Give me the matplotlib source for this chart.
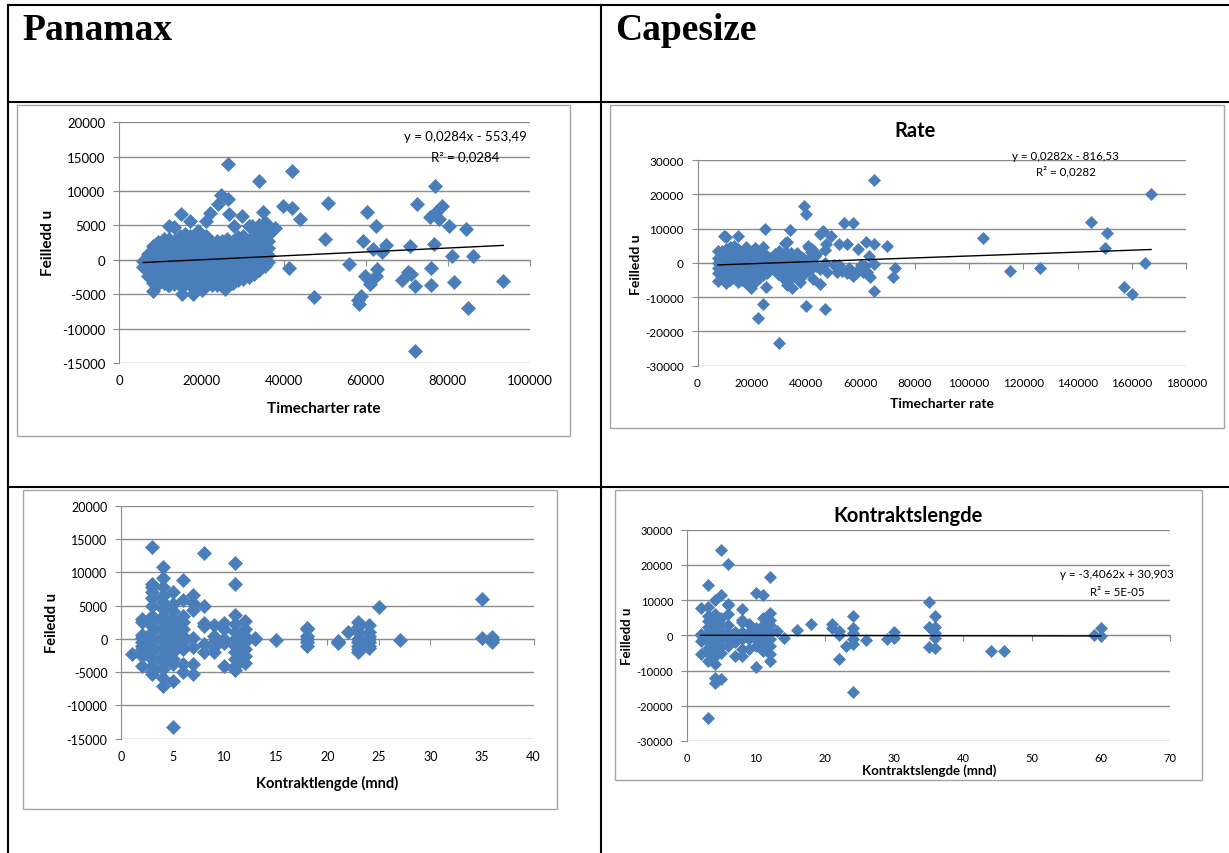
import matplotlib
matplotlib.use('Agg')
import matplotlib.pyplot as plt
from matplotlib.lines import Line2D
from matplotlib.patches import Rectangle
import numpy as np

plt.rcParams['axes.unicode_minus'] = False
plt.rcParams['font.family'] = ['Lato', 'DejaVu Sans']

W, H = 1229, 854
BLUE = '#4A7EBB'
GRID = '#8C8C8C'

# ---------------- data ----------------
# Panamax, residual vs timecharter rate: dense block as (x, [y...]) columns
pmx_rate_cols = [
    (5800, [-1000, -200]),
    (7000, [-2400, -1500, -600, 300, 900]),
    (8200, [-3300, -2400, -1500, -600, 300, 1200, 2000]),
    (9500, [-3500, -2600, -1700, -800, 100, 1000, 1900, 2600]),
    (10800, [-3300, -2400, -1500, -600, 300, 1200, 2100, 3000]),
    (12100, [-3700, -2800, -1900, -1000, -100, 800, 1700, 2600, 3100, 4900]),
    (13400, [-3500, -2600, -1700, -800, 100, 1000, 1900, 2800, 4800]),
    (14700, [-3600, -2700, -1800, -900, 0, 900, 1800, 2700, 3400]),
    (16000, [-3500, -2600, -1700, -800, 100, 1000, 1900, 2800, 3700]),
    (17300, [-3700, -2800, -1900, -1000, -100, 800, 1700, 2600, 3500]),
    (18600, [-3600, -2700, -1800, -900, 0, 900, 1800, 2700, 3600]),
    (19900, [-3500, -2600, -1700, -800, 100, 1000, 1900, 2800, 3700]),
    (21200, [-3600, -2700, -1800, -900, 0, 900, 1800, 2700, 3500, 5600]),
    (22500, [-3700, -2800, -1900, -1000, -100, 800, 1700, 2600]),
    (23800, [-3600, -2700, -1800, -900, 0, 900, 1800, 2700]),
    (25100, [-3500, -2600, -1700, -800, 100, 1000, 1900, 2700]),
    (26300, [-3200, -2300, -1400, -500, 400, 1300, 2200, 3000]),
    (27600, [-3300, -2400, -1500, -600, 300, 1200, 2100, 2800]),
    (28900, [-3000, -2100, -1200, -300, 600, 1500, 2400, 3300]),
    (30200, [-2800, -1900, -1000, -100, 800, 1700, 2600, 3400]),
    (31500, [-2500, -1600, -700, 200, 1100, 2000, 2900, 4900]),
    (32800, [-2100, -1200, -300, 600, 1500, 2400, 3300, 4300]),
    (34100, [-1500, -600, 300, 1200, 2100, 3000, 3900, 5100]),
    (35400, [-900, 0, 900, 1800, 2700, 3600, 4500, 5500]),
    (36300, [-300, 700, 1700, 2700, 3600]),
]
pmx_rate_out = [
    (26500, 13900), (42000, 12900), (34000, 11400), (76900, 10800), (24700, 9400),
    (26500, 8900), (72400, 8100), (50800, 8200), (78600, 7900), (39800, 7800),
    (42000, 7600), (23900, 8100), (77000, 7000), (75600, 6300), (77900, 5900),
    (60400, 6900), (44100, 5900), (34900, 6900), (26600, 6600), (15100, 6600),
    (29900, 6400), (22000, 6800), (38000, 4600), (62400, 4900), (80200, 4900),
    (84300, 4500), (50000, 3100), (59400, 2800), (70800, 2000), (76500, 2300),
    (61800, 1600), (65000, 2200), (63900, 1100), (80900, 500), (86000, 600),
    (41400, -1200), (55800, -600), (75900, -1200), (62700, -1400), (70400, -1700),
    (71000, -2100), (59800, -2300), (62400, -2400), (68800, -2900), (61000, -3500),
    (81400, -3200), (93500, -3100), (71900, -3800), (76000, -3700), (47500, -5400),
    (58900, -5300), (58100, -5800), (58300, -6400), (84800, -7000), (71900, -13300),
    (17200, 5700), (28000, 4900), (19200, 4200), (32200, 4900), (8100, -4600),
    (15200, -4900), (18000, -5000), (20000, -4400), (25700, -4200), (11900, -3700),
    (37000, 4500),
]
pmx_rate_fit = (0.0284, -553.49)

# Capesize, residual vs timecharter rate
cape_rate_cols = [
    (7500, [-5400, -3000, -1500, 0, 1500, 3500]),
    (9000, [-4500, -2500, -1000, 500, 2000, 3500]),
    (10500, [-6000, -3500, -2000, -500, 1000, 2500, 4000, 7400]),
    (12000, [-5000, -3000, -1500, 0, 1500, 3000, 4500]),
    (13500, [-4000, -2500, -1000, 500, 2000, 3500, 5000]),
    (15000, [-5500, -3500, -2000, -500, 1000, 2500, 4000]),
    (16500, [-5000, -3000, -1500, 0, 1500, 3000]),
    (18000, [-6000, -4000, -2500, -1000, 500, 2000, 3500, 4500]),
    (19500, [-4500, -3000, -1500, 0, 1500, 3000]),
    (21000, [-5500, -3500, -2000, -500, 1000, 2500, 4300]),
    (22500, [-4500, -3000, -1500, 0, 1500, 3000]),
    (24000, [-3500, -2000, -500, 1000, 2500, 4500]),
    (25500, [-3000, -1000, 500, 2000]),
    (27000, [-1500, 0, 1500]),
    (28500, [-500, 1000, 2500]),
    (30000, [-1500, 0, 2000, 3500]),
    (31500, [-4500, -2500, -500, 1000, 2500]),
    (33000, [-3500, -1500, 0, 1500, 3000, 6000]),
    (34500, [-4500, -2500, -500, 1500, 3000]),
    (36000, [-3500, -1500, 0, 2000]),
    (37500, [-2500, -500, 1500]),
    (39000, [-3500, -1500, 0, 1500]),
    (40500, [-2500, -500, 1000, 5000]),
    (42000, [-1500, 500, 4000]),
    (43500, [-1000, 2500]),
]
cape_rate_out = [
    (65100, 24100), (167000, 20000), (39100, 16600), (40000, 14200), (53900, 11500),
    (57100, 11500), (144900, 12000), (150900, 8700), (105000, 7300), (149900, 4300),
    (164900, -100), (114900, -2500), (126100, -1500), (157000, -6900), (160100, -9100),
    (65100, -8100), (72700, -1500), (72100, -4100), (69800, 5000), (65100, 5400),
    (61900, 6200), (63100, 1900), (65100, -400), (63400, -4100), (59100, 3900),
    (60100, -600), (57100, -3900), (55100, 5500), (52100, 5600), (49200, 7900),
    (45200, 8400), (46200, 9300), (47300, 5600), (46800, 3700), (45000, -6100),
    (47100, -13500), (40000, -12500), (30000, -23500), (22300, -16000), (24100, -12100),
    (25400, -7000), (19600, -7400), (25000, 9800), (34000, 9500), (32200, 5700),
    (9900, 7800), (14800, 7900), (51200, -2800), (53300, -2500), (54900, -3000),
    (58300, -3000), (60800, -2800), (47000, 100), (52000, -500), (42400, -4700),
    (37700, -5500), (34700, -7200), (32800, -6500), (40900, 4300), (41900, 3300),
    (43100, 2000), (36500, 3000), (42400, -900), (45000, -1700), (47600, -2800),
    (29100, -2300), (29800, -3300), (45700, 8900), (50200, -600), (55700, -1400),
    (58600, -2300), (61600, -900), (62500, -2800),
]
cape_rate_fit = (0.0282, -816.53)

# Panamax, residual vs contract length (months)
pmx_len_cols = [
    (1, [-2200]),
    (2, [-4000, -2600, -2000, -1500, -1000, -500, 200, 600, 2500, 3000]),
    (3, [-5200, -4800, -4000, -3000, -2000, -1000, 0, 1000, 2000, 3000, 3500,
         5000, 6200, 7000, 7800, 8200, 13900]),
    (4, [-7000, -5800, -4500, -3500, -2500, -1500, -500, 500, 1500, 2500, 3500,
         4500, 5500, 6500, 7800, 9200, 10800]),
    (5, [-13300, -6300, -3800, -3000, -2000, -1000, 0, 1000, 2000, 3000, 4200,
         5300, 7000]),
    (6, [-4900, -3700, -1500, -500, 500, 1500, 2500, 3400, 5900, 8900]),
    (7, [-5300, -3700, -1200, 200, 4400, 5400, 6600]),
    (8, [-1900, -700, 1900, 2400, 4900, 12900]),
    (9, [-2000, -1200, -500, 400, 2100]),
    (10, [-4000, -600, 0, 1500, 2400]),
    (11, [-4600, -4000, -3000, -2000, -1000, 0, 1000, 2200, 3600, 8200, 11400]),
    (12, [-3600, -2500, -1500, -500, 500, 1500, 2700]),
    (13, [0, 200]),
    (15, [-200]),
    (18, [-1100, -500, 0, 500, 1500, 1700]),
    (21, [-600, -500, -300]),
    (22, [1000]),
    (23, [-1900, -1500, -1000, -500, 0, 1000, 1800, 2500]),
    (24, [-1400, -1000, -500, 0, 500, 1000, 2100]),
    (25, [4800]),
    (27, [-200]),
    (35, [100, 6000]),
    (36, [-400, -100, 0, 300]),
]

# Capesize, residual vs contract length (months)
cape_len_cols = [
    (2, [-5400, -1500, 0, 500, 7800]),
    (3, [-23500, -7300, -5000, -3500, -2000, -500, 1000, 2500, 4000, 5500, 8000, 14300]),
    (4, [-13500, -12100, -8000, -6000, -4000, -2000, 0, 2000, 4000, 6000, 9900]),
    (5, [-12400, -5000, -3000, -1000, 1000, 3000, 5000, 11500, 24100]),
    (6, [-3000, -1000, 1000, 3000, 6100, 8500, 9000, 20200]),
    (7, [-6000, -2000, 0, 1000]),
    (8, [-6000, -4000, -1000, 1000, 3800, 4300, 7400]),
    (9, [-4000, -1000, 0, 1000, 3100]),
    (10, [-9000, -3000, -1000, 1000, 2000, 12000]),
    (11, [-4500, -3000, -1500, 0, 1500, 3000, 5000, 11500]),
    (12, [-7400, -5200, -3000, -1000, 1000, 3000, 4500, 6400, 16600]),
    (13, [1200]),
    (14, [-700]),
    (16, [1400]),
    (18, [3200]),
    (21, [2100, 3100]),
    (22, [-6700, 100, 1200]),
    (23, [-3100]),
    (24, [-16000, -2400, -1000, 700, 2200, 5500]),
    (26, [-1400]),
    (29, [-1100]),
    (30, [-700, 900]),
    (35, [-3200, 2400, 9400]),
    (36, [-3700, -700, 800, 2400, 5500]),
    (44, [-4500]),
    (46, [-4500]),
    (59, [200]),
    (60, [-300, 2000]),
]
cape_len_fit = (-3.4062, 30.903)


def flat(cols, pairs=()):
    xs, ys = [], []
    for x, yl in cols:
        xs += [x] * len(yl)
        ys += yl
    for x, y in pairs:
        xs.append(x)
        ys.append(y)
    return np.array(xs, float), np.array(ys, float)


def fx(px):
    return px / W


def fy(py):
    return 1 - py / H


fig = plt.figure(figsize=(W / 100, H / 100), dpi=100)
fig.patch.set_facecolor('white')

# table grid
for x0, y0, x1, y1 in [(8, 6, 1229, 6), (8, 103, 1229, 103), (8, 488, 1229, 488),
                       (8, 6, 8, 854), (601, 6, 601, 854)]:
    fig.add_artist(Line2D([fx(x0), fx(x1)], [fy(y0), fy(y1)],
                          transform=fig.transFigure, color='black', lw=1.5))

fig.text(fx(22), fy(31), 'Panamax', family='Liberation Serif', weight='bold',
         size=27, va='center', ha='left')
fig.text(fx(615), fy(31), 'Capesize', family='Liberation Serif', weight='bold',
         size=27, va='center', ha='left')


def panel(frame, area, x, y, xlim, xstep, ylim, ystep, tick_fs, ms,
          xlabel, xlab_pos, ylabel, ylab_pos, lab_fs,
          title=None, title_pos=None, fit=None, eq=None, eq_pos=None, eq_fs=9):
    l, t, r, b = frame
    fig.add_artist(Rectangle((fx(l), fy(b)), fx(r) - fx(l), fy(t) - fy(b),
                             transform=fig.transFigure, fill=False,
                             ec='#A6A6A6', lw=1))
    l, t, r, b = area
    ax = fig.add_axes([fx(l), fy(b), fx(r) - fx(l), fy(t) - fy(b)])
    ax.set_facecolor('none')
    ax.set_xlim(xlim)
    ax.set_ylim(ylim)
    xt = np.arange(xlim[0], xlim[1] + 1, xstep)
    yt = np.arange(ylim[0], ylim[1] + 1, ystep)
    ax.set_xticks(xt)
    ax.set_yticks(yt)
    ax.set_yticklabels([str(int(v)) for v in yt])
    for s in ('top', 'right'):
        ax.spines[s].set_visible(False)
    ax.spines['left'].set_color(GRID)
    ax.spines['bottom'].set_color(GRID)
    ax.spines['bottom'].set_position(('data', 0))
    ax.tick_params(axis='y', direction='out', length=4, color=GRID,
                   labelsize=tick_fs, pad=6)
    ax.tick_params(axis='x', direction='out', length=4, color=GRID,
                   labelbottom=False)
    ax.grid(axis='y', color=GRID, lw=1)
    ax.set_axisbelow(True)
    sec = ax.secondary_xaxis(0)
    sec.set_xticks(xt)
    sec.set_xticklabels([str(int(v)) for v in xt])
    sec.tick_params(length=0, pad=8, labelsize=tick_fs)
    sec.spines['bottom'].set_visible(False)

    ax.plot(x, y, 'D', ms=ms, color=BLUE, mec=BLUE, mew=0.5, zorder=3)
    if fit is not None:
        xx = np.array([x.min(), x.max()])
        ax.plot(xx, fit[0] * xx + fit[1], color='black', lw=1, zorder=4)
    if eq is not None:
        for line, (ex, ey) in zip(eq, eq_pos):
            fig.text(fx(ex), fy(ey), line, ha='center', va='center', size=eq_fs)
    if title is not None:
        fig.text(fx(title_pos[0]), fy(title_pos[1]), title, ha='center',
                 va='center', size=14.5, weight='bold')
    fig.text(fx(xlab_pos[0]), fy(xlab_pos[1]), xlabel, ha='center', va='center',
             size=lab_fs, weight='bold')
    fig.text(fx(ylab_pos[0]), fy(ylab_pos[1]), ylabel, ha='center', va='center',
             size=lab_fs, weight='bold', rotation=90)
    return ax


x, y = flat(pmx_rate_cols, pmx_rate_out)
panel((17, 106, 570, 437), (119.4, 123.3, 530, 364), x, y,
      (0, 100000), 20000, (-15000, 20000), 5000, 9.5, 7.0,
      'Timecharter rate', (324, 409), 'Feilledd u', (48, 243), 11,
      fit=pmx_rate_fit,
      eq=['y = 0,0284x - 553,49', 'R² = 0,0284'],
      eq_pos=[(465, 137), (465, 157)], eq_fs=9.5)

x, y = flat(cape_rate_cols, cape_rate_out)
panel((610, 106, 1224, 429), (697.5, 161, 1186.4, 366.7), x, y,
      (0, 180000), 20000, (-30000, 30000), 10000, 8.5, 6.2,
      'Timecharter rate', (942, 404), 'Feilledd u', (636, 265), 10,
      title='Rate', title_pos=(915, 131), fit=cape_rate_fit,
      eq=['y = 0,0282x - 816,53', 'R² = 0,0282'],
      eq_pos=[(1065, 156), (1066, 172)], eq_fs=8.3)

x, y = flat(pmx_len_cols)
panel((23, 491, 557, 810), (121.3, 507, 533.5, 739.7), x, y,
      (0, 40), 5, (-15000, 20000), 5000, 9, 7.0,
      'Kontraktlengde (mnd)', (327, 783), 'Feiledd u', (52, 623), 10.5)

x, y = flat(cape_len_cols)
panel((615, 491, 1202, 781), (687, 530.7, 1170, 742), x, y,
      (0, 70), 10, (-30000, 30000), 10000, 8, 6.2,
      'Kontraktslengde (mnd)', (929, 771), 'Feilledd u', (627, 636), 9.5,
      title='Kontraktslengde', title_pos=(908, 516), fit=cape_len_fit,
      eq=['y = -3,4062x + 30,903', 'R² = 5E-05'],
      eq_pos=[(1117, 575), (1117, 592)], eq_fs=8.3)

fig.savefig('out.png', dpi=100)
